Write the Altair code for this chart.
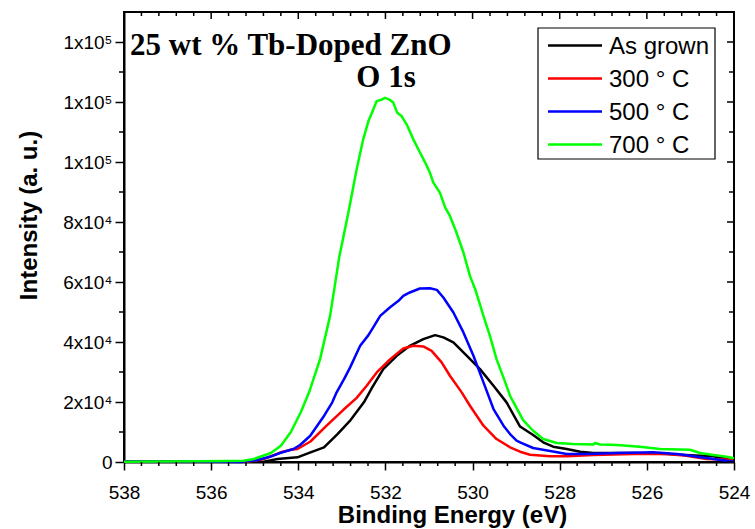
import altair as alt
import pandas as pd

# ---------------- data ----------------
series_names = ["As grown", "300 \u00b0 C", "500 \u00b0 C", "700 \u00b0 C"]
series_colors = ["#000000", "#ff0000", "#0000ff", "#00ff00"]

black_E = [538.0, 536.5, 535.2, 534.79, 534.48, 534.02, 533.72, 533.41, 533.10, 532.80, 532.49,
           532.30, 532.05, 531.74, 531.44, 531.13, 530.86, 530.67, 530.44, 530.13, 529.83,
           529.52, 529.22, 528.91, 528.61, 528.38, 528.15, 527.84, 527.53, 527.23, 526.31,
           525.54, 524.78, 524.47, 524.17, 524.0]
black_I = [100, 150, 120, 100, 1000, 1560, 3230, 4900, 9320, 13990, 19980,
           24980, 30970, 35400, 38730, 40960, 42290, 41530, 39860, 35400, 30970,
           25410, 19880, 11820, 8990, 6560, 5090, 4330, 3430, 3000, 3000,
           2660, 2100, 1900, 1000, 430]

red_E = [538.0, 536.6, 535.17, 534.79, 534.40, 534.17, 534.02, 533.72, 533.35, 532.97, 532.66,
         532.43, 532.20, 531.89, 531.59, 531.36, 531.13, 530.94, 530.71, 530.52, 530.25,
         530.06, 529.75, 529.45, 529.14, 528.91, 528.68, 528.22, 527.84, 527.23, 526.31,
         525.54, 525.09, 524.63, 524.02]
red_I = [150, 250, 100, 1000, 3230, 4100, 4330, 6830, 12090, 17320, 21380,
         25410, 29870, 34300, 37860, 38730, 38530, 37060, 33200, 28740, 23210,
         18750, 12090, 7660, 4900, 3430, 2430, 1900, 1900, 2330, 2660,
         2660, 2100, 1000, 770]

blue_E = [538.0, 536.3, 535.32, 534.94, 534.65, 534.42, 534.11, 533.96, 533.73, 533.43, 533.22,
          533.12, 532.95, 532.81, 532.58, 532.39, 532.28, 532.12, 531.90, 531.70, 531.59,
          531.44, 531.21, 530.98, 530.82, 530.67, 530.44, 530.21, 529.98, 529.75, 529.52,
          529.29, 529.14, 528.99, 528.91, 528.61, 528.22, 527.84, 527.38, 526.69, 525.85,
          525.31, 524.93, 524.47, 524.0]
blue_I = [200, 150, 0, 670, 1730, 3000, 4330, 5660, 8660, 14890, 19880,
          23210, 27640, 31540, 38730, 42290, 44860, 48720, 51520, 53710, 55380,
          56510, 57840, 57940, 57380, 54850, 49850, 43190, 35400, 26540, 17650,
          12090, 9320, 7090, 6560, 4660, 3660, 2660, 2660, 3000, 3230,
          2660, 1900, 1000, 100]

green_E = [538.0, 537.2, 536.3, 535.6, 535.25, 535.02, 534.63, 534.40, 534.17, 533.94, 533.75,
           533.50, 533.27, 533.06, 532.85, 532.66, 532.51, 532.39, 532.31, 532.20, 532.11,
           532.01, 531.92, 531.82, 531.73, 531.63, 531.50, 531.36, 531.21, 531.09, 530.98,
           530.90, 530.75, 530.63, 530.52, 530.38, 530.21, 530.06, 529.94, 529.75, 529.60,
           529.45, 529.26, 529.14, 529.06, 528.84, 528.61, 528.38, 528.07, 527.69, 527.23,
           527.19, 527.07, 526.69, 526.16, 525.70, 525.01, 524.78, 524.47, 524.17, 524.0]
green_I = [100, 170, 230, 300, 430, 1000, 3000, 5430, 9990, 16650, 23300,
           34300, 48700, 68300, 83150, 97570, 107560, 113650, 116450, 120300, 120650,
           121400, 120900, 119800, 116450, 115300, 112200, 107560, 103230, 99900, 96470,
           93140, 89810, 84900, 82020, 76920, 69830, 62040, 57610, 48720, 41960,
           34300, 26970, 22080, 19880, 13990, 10420, 7660, 6330, 5990, 5830,
           6330, 5830, 5660, 5090, 4330, 4100, 3000, 2330, 1760, 1230]

x_major = [538, 536, 534, 532, 530, 528, 526, 524]
x_minor = [537.6, 537.2, 536.8, 536.4, 535.6, 535.2, 534.8, 534.4, 533.6, 533.2, 532.8, 532.4,
           531.6, 531.2, 530.8, 530.4, 529.6, 529.2, 528.8, 528.4, 527.6, 527.2, 526.8, 526.4,
           525.6, 525.2, 524.8, 524.4]
y_major = [0, 20000, 40000, 60000, 80000, 100000, 120000, 140000]
y_minor = [10000, 30000, 50000, 70000, 90000, 110000, 130000]

title_text = ["25 wt % Tb-Doped ZnO"]
sub_text = ["O 1s"]

# ---------------- build table ----------------
frames = []
for name, E, I in zip(series_names, [black_E, red_E, blue_E, green_E],
                      [black_I, red_I, blue_I, green_I]):
    frames.append(pd.DataFrame({"E": E, "I": I, "s": name}))
df = pd.concat(frames, ignore_index=True)
df["k"] = df["s"].map({n: i for i, n in enumerate(series_names)})

W, H = 610, 450
xscale = alt.Scale(domain=[524, 538], reverse=True, nice=False, zero=False)
yscale = alt.Scale(domain=[0, 150000], nice=False, zero=True)

FONT = "Liberation Sans"

y_label_expr = ("datum.value == 0 ? '0' : (datum.value < 100000 ? "
                "format(datum.value/10000, 'd') + 'x10\u2074' : '1x10\u2075')")

x_axis = alt.Axis(values=x_major, format="d", title="Binding Energy (eV)",
                  labelFont=FONT, labelFontSize=19, labelColor="black",
                  labelPadding=13, tickSize=8, tickWidth=1.5, tickColor="black",
                  domainColor="black", domainWidth=2, grid=False,
                  titleFont=FONT, titleFontSize=24, titleFontWeight="bold",
                  titleColor="black", titleX=328, titleY=60,
                  titleBaseline="alphabetic", labelFlush=False)
y_axis = alt.Axis(values=y_major, labelExpr=y_label_expr, title="Intensity (a. u.)",
                  labelFont=FONT, labelFontSize=19, labelColor="black",
                  labelPadding=3, tickSize=9, tickWidth=1.5, tickColor="black",
                  domainColor="black", domainWidth=2, grid=False,
                  titleFont=FONT, titleFontSize=24, titleFontWeight="bold",
                  titleColor="black", titleX=-88, titleY=203,
                  titleBaseline="alphabetic", labelFlush=False)

lines = alt.Chart(df).mark_line(strokeWidth=2.5, strokeJoin="round").encode(
    x=alt.X("E:Q", scale=xscale, axis=x_axis),
    y=alt.Y("I:Q", scale=yscale, axis=y_axis),
    color=alt.Color("s:N", scale=alt.Scale(domain=series_names, range=series_colors),
                    sort=series_names, legend=None),
    order=alt.Order("k:Q"),
    detail="s:N",
)


def hticks(vals, y0, y1):
    return alt.Chart(pd.DataFrame({"E": vals})).mark_rule(color="black", strokeWidth=1.5).encode(
        x=alt.X("E:Q", scale=xscale, axis=x_axis), y=alt.value(y0), y2=alt.value(y1))


def vticks(vals, x0, x1):
    return alt.Chart(pd.DataFrame({"I": vals})).mark_rule(color="black", strokeWidth=1.5).encode(
        y=alt.Y("I:Q", scale=yscale, axis=y_axis), x=alt.value(x0), x2=alt.value(x1))


ticks = [
    hticks(x_minor, H, H + 4),        # bottom minor (outward)
    hticks(x_major, 0, 7),            # top major (inward)
    hticks(x_minor, 0, 4),            # top minor (inward)
    vticks(y_minor, -5, 0),           # left minor (outward)
    vticks(y_major, W - 7, W),        # right major (inward)
    vticks(y_minor, W - 5, W),        # right minor (inward)
]

t1 = alt.Chart(pd.DataFrame({"t": title_text})).mark_text(
    font="Liberation Serif", fontSize=31, fontWeight="bold", color="black",
    align="left", baseline="alphabetic").encode(text="t:N", x=alt.value(6), y=alt.value(43))
t2 = alt.Chart(pd.DataFrame({"t": sub_text})).mark_text(
    font="Liberation Serif", fontSize=31, fontWeight="bold", color="black",
    align="center", baseline="alphabetic").encode(text="t:N", x=alt.value(262), y=alt.value(75))

# ---------------- legend box (drawn from the series lists) ----------------
LX0, LX1, LY0, LY1 = 414, 591, 16, 147
legend_box = alt.Chart(pd.DataFrame({"a": [0]})).mark_rect(
    fill="white", stroke="black", strokeWidth=1.2).encode(
    x=alt.value(LX0), x2=alt.value(LX1), y=alt.value(LY0), y2=alt.value(LY1))

legend_layers = [legend_box]
for i, (name, col) in enumerate(zip(series_names, series_colors)):
    yy = 33.5 + 33 * i
    legend_layers.append(
        alt.Chart(pd.DataFrame({"s": [name]})).mark_rule(color=col, strokeWidth=2.5).encode(
            x=alt.value(424), x2=alt.value(478), y=alt.value(yy)))
    legend_layers.append(
        alt.Chart(pd.DataFrame({"s": [name]})).mark_text(
            font=FONT, fontSize=24, color="black", align="left", baseline="middle").encode(
            text="s:N", x=alt.value(485), y=alt.value(yy + 1)))

chart = alt.layer(lines, *ticks, t1, t2, *legend_layers).properties(
    width=W, height=H,
    padding={"left": 124, "top": 12, "right": 21, "bottom": 67},
    autosize="none",
    background="white",
).configure_view(stroke="black", strokeWidth=2)

chart.save("out.html", embed_options={"renderer": "svg", "actions": False})
